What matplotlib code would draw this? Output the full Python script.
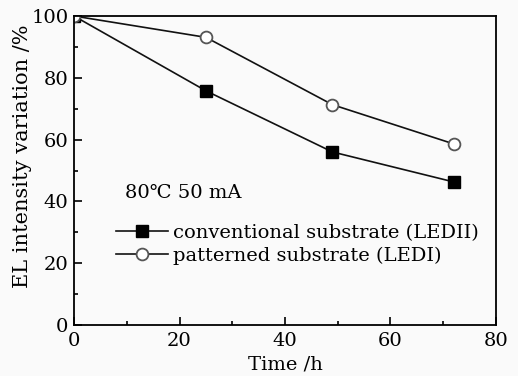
import numpy as np
import matplotlib.pyplot as plt
from matplotlib.ticker import MultipleLocator

plt.rcParams['font.family'] = ['DejaVu Serif']

# Data
time_h = [0, 25, 49, 72]
conventional = [100, 75.8, 56.0, 46.3]
patterned = [100, 93.1, 71.3, 58.6]

fig = plt.figure(figsize=(5.18, 3.76), dpi=100, facecolor='#fafafa')
ax = fig.add_axes([0.1429, 0.1356, 0.8146, 0.8218])
ax.set_facecolor('#fafafa')

ax.plot(time_h, conventional, color='#111111', lw=1.2, marker='s', ms=8,
        mfc='black', mec='black', label='conventional substrate (LEDII)')
ax.plot(time_h, patterned, color='#111111', lw=1.2, marker='o', ms=8.5,
        mfc='white', mec='#555555', mew=1.3, label='patterned substrate (LEDI)')

ax.set_xlim(0, 80)
ax.set_ylim(0, 100)
ax.xaxis.set_major_locator(MultipleLocator(20))
ax.xaxis.set_minor_locator(MultipleLocator(10))
ax.yaxis.set_major_locator(MultipleLocator(20))
ax.yaxis.set_minor_locator(MultipleLocator(10))
ax.tick_params(which='both', direction='in', top=False, right=False, labelsize=14)
ax.tick_params(which='major', length=5.5, width=1.2)
ax.tick_params(which='minor', length=3, width=1.2)
ax.tick_params(axis='x', which='major', pad=5)
ax.tick_params(axis='y', which='major', pad=4)
for s in ax.spines.values():
    s.set_linewidth(1.3)

ax.set_xlabel('Time /h', fontsize=14, labelpad=4)
ax.set_ylabel('EL intensity variation /%', fontsize=15)
ax.yaxis.set_label_coords(-0.10, 0.547)

ax.text(9.6, 42.7, '80\u2103 50 mA', fontsize=14, va='center', ha='left')
ax.legend(loc='upper left', bbox_to_anchor=(0.08, 0.352), frameon=False,
          fontsize=14, handlelength=2.7, handletextpad=0.25,
          labelspacing=0.25, borderaxespad=0)

fig.savefig('out.png', dpi=100, facecolor=fig.get_facecolor())
